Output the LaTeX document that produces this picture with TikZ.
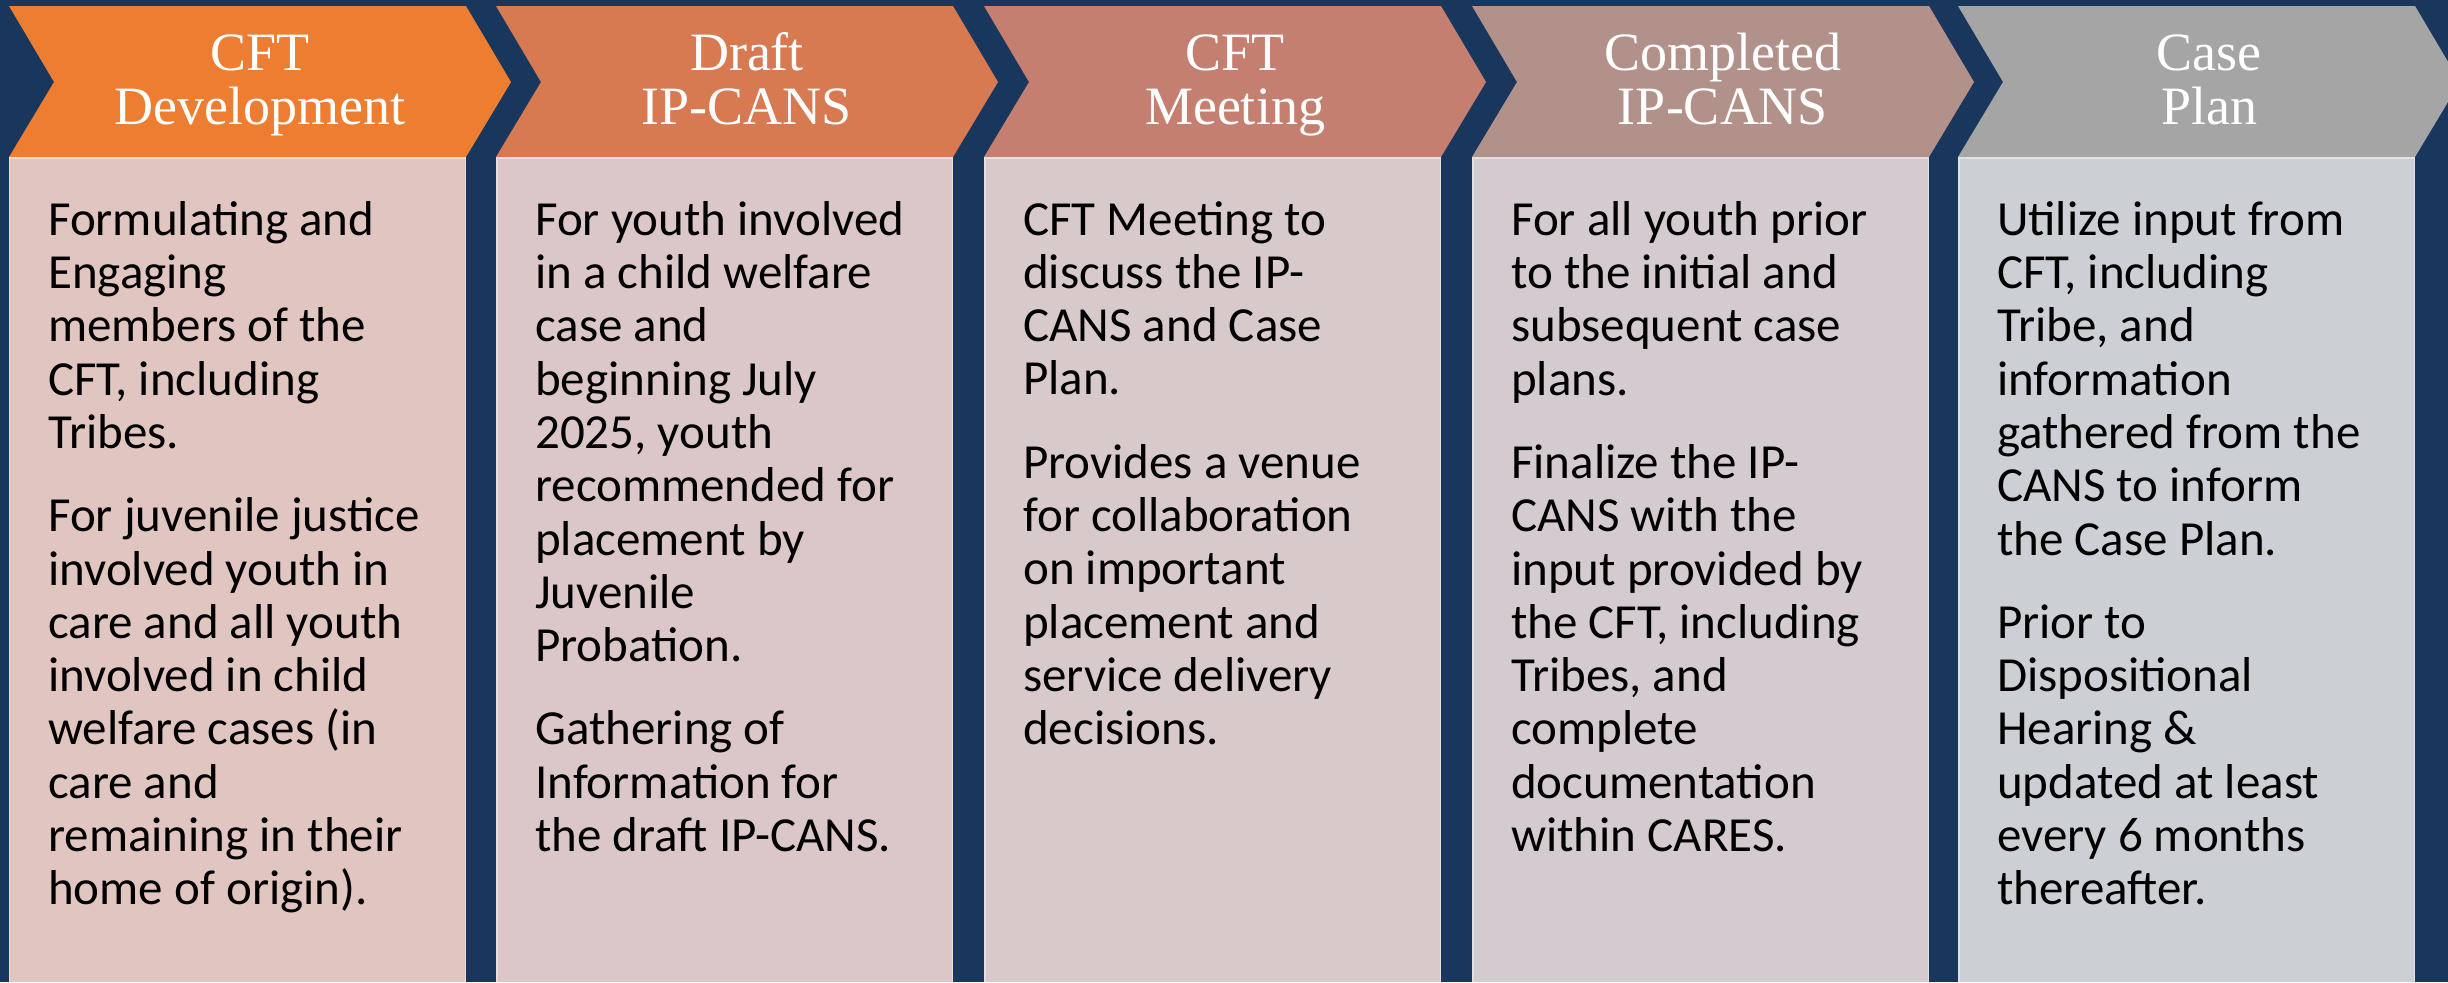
\documentclass[tikz,border=0pt]{standalone}
\usepackage{fontspec}
\setmainfont{Liberation Serif}
\newfontfamily\stagefont{Carlito}
\definecolor{navy}{RGB}{25,55,93}
\definecolor{headA}{RGB}{237,125,49}
\definecolor{headB}{RGB}{215,121,81}
\definecolor{headC}{RGB}{196,127,112}
\definecolor{headD}{RGB}{179,145,139}
\definecolor{headE}{RGB}{165,165,165}
\definecolor{bodyA}{RGB}{225,197,193}
\definecolor{bodyB}{RGB}{219,199,199}
\definecolor{bodyC}{RGB}{216,201,203}
\definecolor{bodyD}{RGB}{211,203,208}
\definecolor{bodyE}{RGB}{204,207,212}
\tikzset{
	headtext/.style={text=white, align=center, inner sep=0pt, anchor=base, font=\fontsize{54bp}{54bp}\selectfont},
	bodytext/.style={text=black, align=left, inner sep=0pt, anchor=north west, font=\stagefont\fontsize{49bp}{53.3bp}\selectfont},
	bodyedge/.style={draw=white, draw opacity=0.4, line width=1.5}
}
\newcommand{\drawstage}[6]{
	\pgfmathsetmacro{\xleft}{#2}
	\pgfmathsetmacro{\xright}{#2+457}
	\fill[#3] (\xleft,6) -- (\xright,6) -- (\xright+45,82) -- (\xright,157) -- (\xleft,157) -- (\xleft+45,82) -- cycle;
	\fill[#4] (\xleft,157) rectangle (\xright,982);
	\draw[bodyedge] (\xleft+0.75,982) -- (\xleft+0.75,157.75) -- (\xright-0.75,157.75) -- (\xright-0.75,982);
	\node[headtext] (head#1) at ({(\xleft+\xright+45)/2},124) {#5};
	\node[bodytext] (body#1) at (\xleft+39,201) {#6};
}
\begin{document}
\begin{tikzpicture}[x=1bp,y=-1bp]
	\useasboundingbox (0,0) rectangle (2448,982);
	\clip (0,0) rectangle (2448,982);
	\fill[navy] (0,0) rectangle (2448,982);
	\drawstage{1}{9}{headA}{bodyA}{CFT\\Development}{Formulating and\\Engaging\\members of the\\CFT, including\\Tribes.\\[30bp]For juvenile justice\\involved youth in\\care and all youth\\involved in child\\welfare cases (in\\care and\\remaining in their\\home of origin).}
	\drawstage{2}{496}{headB}{bodyB}{Draft\\IP-CANS}{For youth involved\\in a child welfare\\case and\\beginning July\\2025, youth\\recommended for\\placement by\\Juvenile\\Probation.\\[30bp]Gathering of\\Information for\\the draft IP-CANS.}
	\drawstage{3}{984}{headC}{bodyC}{CFT\\Meeting}{CFT Meeting to\\discuss the IP-\\CANS and Case\\Plan.\\[30bp]Provides a venue\\for collaboration\\on important\\placement and\\service delivery\\decisions.}
	\drawstage{4}{1472}{headD}{bodyD}{Completed\\IP-CANS}{For all youth prior\\to the initial and\\subsequent case\\plans.\\[30bp]Finalize the IP-\\CANS with the\\input provided by\\the CFT, including\\Tribes, and\\complete\\documentation\\within CARES.}
	\drawstage{5}{1958}{headE}{bodyE}{Case\\Plan}{Utilize input from\\CFT, including\\Tribe, and\\information\\gathered from the\\CANS to inform\\the Case Plan.\\[30bp]Prior to\\Dispositional\\Hearing \&\\updated at least\\every 6 months\\thereafter.}
\end{tikzpicture}
\end{document}
